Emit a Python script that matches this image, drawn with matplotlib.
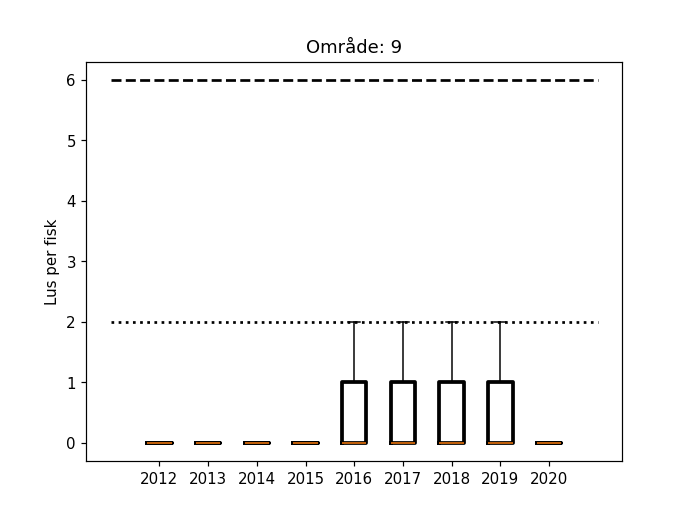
import matplotlib
matplotlib.use("Agg")
import matplotlib.pyplot as plt

# lice counts per fish, per year, for area 9
years = ['2012', '2013', '2014', '2015', '2016', '2017', '2018', '2019', '2020']
counts_2012 = [0, 0, 0, 0]
counts_2013 = [0, 0, 0, 0]
counts_2014 = [0, 0, 0, 0]
counts_2015 = [0, 0, 0, 0]
counts_2016 = [0, 0, 0, 1, 2]
counts_2017 = [0, 0, 0, 1, 2]
counts_2018 = [0, 0, 0, 1, 2]
counts_2019 = [0, 0, 0, 1, 2]
counts_2020 = [0, 0, 0, 0]
upper_limit = 6
lower_limit = 2

data = [counts_2012, counts_2013, counts_2014, counts_2015, counts_2016,
        counts_2017, counts_2018, counts_2019, counts_2020]

fig, ax = plt.subplots(figsize=(6.4, 4.8), dpi=108)
ax.hlines(upper_limit, 0, len(years) + 1, colors='k', linestyles='--', linewidth=1.8)
ax.hlines(lower_limit, 0, len(years) + 1, colors='k', linestyles=':', linewidth=1.8)
ax.boxplot(data, boxprops=dict(linewidth=2.5), showfliers=False)
ax.set_xticks(range(1, len(years) + 1))
ax.set_xticklabels(years)
ax.set_ylabel('Lus per fisk')
ax.set_title('Område: 9')
ax.margins(x=0.05, y=0.05)
fig.savefig('out.png', dpi=108)
